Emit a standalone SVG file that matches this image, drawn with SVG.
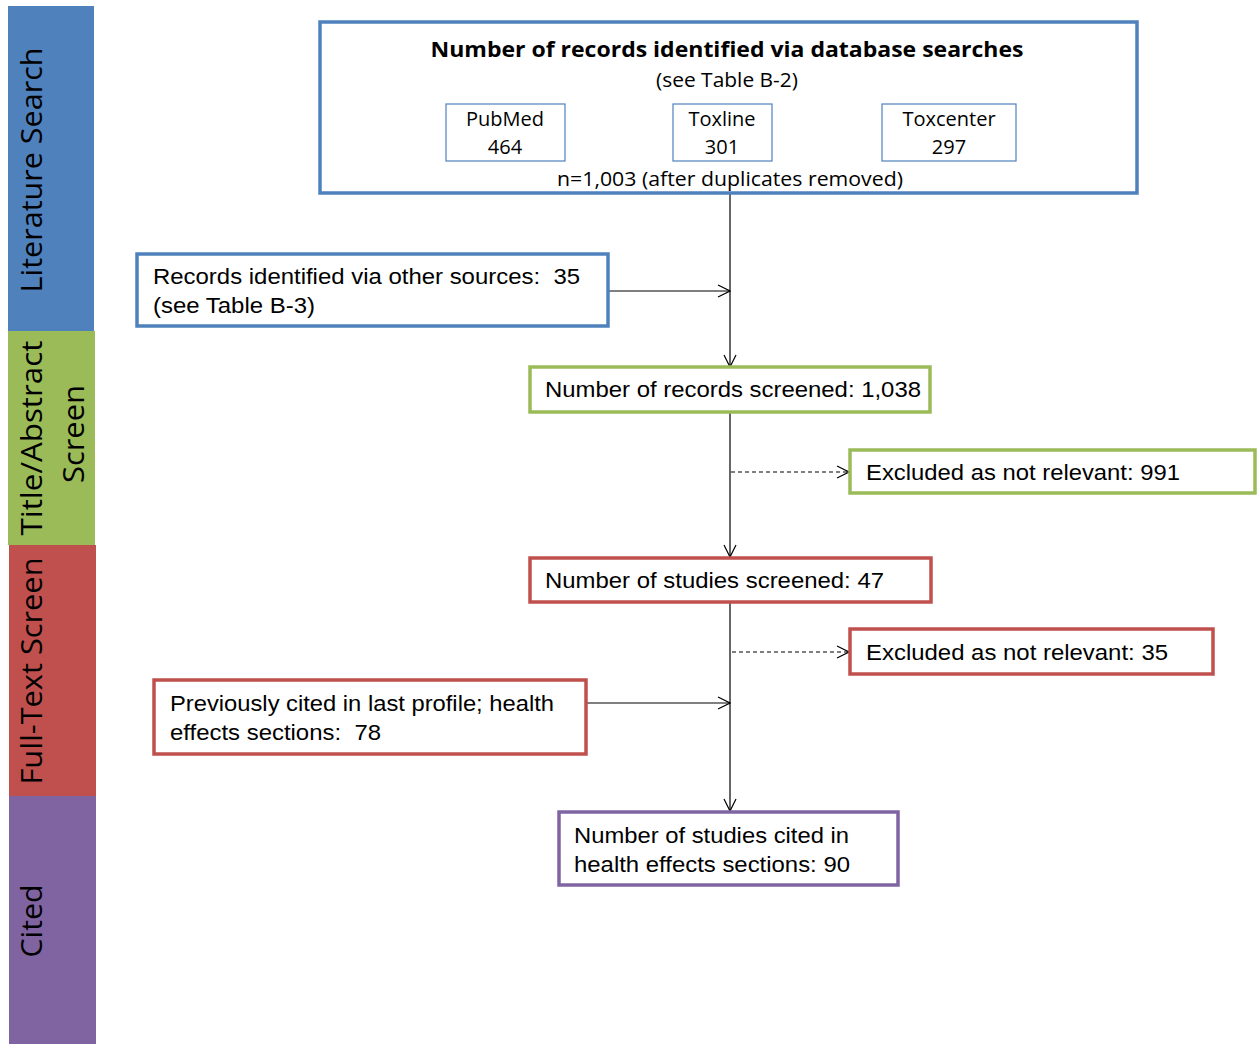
<svg xmlns="http://www.w3.org/2000/svg" width="1257" height="1044" viewBox="0 0 1257 1044">
<style>
.band{font-family:"Open Sans","DejaVu Sans",sans-serif;font-size:29px;fill:#000}
.t{font-family:"Liberation Sans",Arial,sans-serif;font-size:22px;fill:#000}
.c{font-family:"Open Sans","DejaVu Sans",sans-serif;font-size:20px;fill:#000}
.cb{font-family:"Open Sans","DejaVu Sans",sans-serif;font-size:22px;font-weight:bold;fill:#000}
.box{fill:#fff;stroke-width:3.5}
.blue{stroke:#4f81bd}
.green{stroke:#9bbb59}
.red{stroke:#c0504d}
.purple{stroke:#8064a2}
.sub{fill:#fff;stroke:#4f81bd;stroke-width:1.2}
.ln{stroke:#000;stroke-width:1.2;fill:none}
.dash{stroke-dasharray:4 3}
</style>
<defs>
<marker id="arr" markerUnits="userSpaceOnUse" markerWidth="14" markerHeight="14" viewBox="0 0 14 14" refX="13" refY="7" orient="auto">
<path d="M1,1 L13,7 L1,13" fill="none" stroke="#000" stroke-width="1.2"/>
</marker>
</defs>
<rect width="1257" height="1044" fill="#fff"/>
<g id="bands">
<rect x="8" y="6" width="86" height="325" fill="#4f81bd"/>
<rect x="8" y="331" width="87" height="214" fill="#9bbb59"/>
<rect x="9" y="545" width="87" height="251" fill="#c0504d"/>
<rect x="9" y="796" width="87" height="248" fill="#8064a2"/>
<text class="band" transform="translate(42,170) rotate(-90)" text-anchor="middle" textLength="245" lengthAdjust="spacingAndGlyphs">Literature Search</text>
<text class="band" transform="translate(42,438) rotate(-90)" text-anchor="middle" textLength="195" lengthAdjust="spacingAndGlyphs">Title/Abstract</text>
<text class="band" transform="translate(84,434) rotate(-90)" text-anchor="middle" textLength="98" lengthAdjust="spacingAndGlyphs">Screen</text>
<text class="band" transform="translate(42,671) rotate(-90)" text-anchor="middle" textLength="227" lengthAdjust="spacingAndGlyphs">Full-Text Screen</text>
<text class="band" transform="translate(42,921) rotate(-90)" text-anchor="middle" textLength="73" lengthAdjust="spacingAndGlyphs">Cited</text>
</g>
<g id="connectors">
<line class="ln" x1="730" y1="193" x2="730" y2="367" marker-end="url(#arr)"/>
<line class="ln" x1="608" y1="291" x2="730" y2="291" marker-end="url(#arr)"/>
<line class="ln" x1="730" y1="412" x2="730" y2="557" marker-end="url(#arr)"/>
<line class="ln dash" x1="731" y1="472" x2="849" y2="472" marker-end="url(#arr)"/>
<line class="ln" x1="730" y1="602" x2="730" y2="811" marker-end="url(#arr)"/>
<line class="ln dash" x1="732" y1="652" x2="849" y2="652" marker-end="url(#arr)"/>
<line class="ln" x1="586" y1="703" x2="730" y2="703" marker-end="url(#arr)"/>
</g>
<g id="db-search">
<rect class="box blue" x="320" y="22" width="817" height="171"/>
<text class="cb" x="727" y="57" text-anchor="middle" textLength="593" lengthAdjust="spacingAndGlyphs">Number of records identified via database searches</text>
<text class="c" x="727" y="87" text-anchor="middle" textLength="142" lengthAdjust="spacingAndGlyphs">(see Table B-2)</text>
<text class="c" x="730" y="186" text-anchor="middle" textLength="346" lengthAdjust="spacingAndGlyphs">n=1,003 (after duplicates removed)</text>
</g>
<g id="pubmed">
<rect class="sub" x="446" y="104" width="119" height="57"/>
<text class="c" x="505" y="126" text-anchor="middle">PubMed</text>
<text class="c" x="505" y="154" text-anchor="middle">464</text>
</g>
<g id="toxline">
<rect class="sub" x="673" y="104" width="99" height="57"/>
<text class="c" x="722" y="126" text-anchor="middle">Toxline</text>
<text class="c" x="722" y="154" text-anchor="middle">301</text>
</g>
<g id="toxcenter">
<rect class="sub" x="882" y="104" width="134" height="57"/>
<text class="c" x="949" y="126" text-anchor="middle">Toxcenter</text>
<text class="c" x="949" y="154" text-anchor="middle">297</text>
</g>
<g id="other-sources">
<rect class="box blue" x="137" y="254" width="471" height="72"/>
<text class="t" x="153" y="284" textLength="427" lengthAdjust="spacingAndGlyphs" xml:space="preserve">Records identified via other sources:  35</text>
<text class="t" x="153" y="313" textLength="162" lengthAdjust="spacingAndGlyphs">(see Table B-3)</text>
</g>
<g id="records-screened">
<rect class="box green" x="530" y="367" width="400" height="45"/>
<text class="t" x="545" y="397" textLength="376" lengthAdjust="spacingAndGlyphs">Number of records screened: 1,038</text>
</g>
<g id="excluded-991">
<rect class="box green" x="850" y="450" width="405" height="43"/>
<text class="t" x="866" y="480" textLength="314" lengthAdjust="spacingAndGlyphs">Excluded as not relevant: 991</text>
</g>
<g id="studies-screened">
<rect class="box red" x="530" y="558" width="401" height="44"/>
<text class="t" x="545" y="588" textLength="339" lengthAdjust="spacingAndGlyphs">Number of studies screened: 47</text>
</g>
<g id="excluded-35">
<rect class="box red" x="850" y="629" width="363" height="45"/>
<text class="t" x="866" y="660" textLength="302" lengthAdjust="spacingAndGlyphs">Excluded as not relevant: 35</text>
</g>
<g id="previously-cited">
<rect class="box red" x="154" y="680" width="432" height="74"/>
<text class="t" x="170" y="711" textLength="384" lengthAdjust="spacingAndGlyphs">Previously cited in last profile; health</text>
<text class="t" x="170" y="740" textLength="211" lengthAdjust="spacingAndGlyphs" xml:space="preserve">effects sections:  78</text>
</g>
<g id="cited">
<rect class="box purple" x="559" y="812" width="339" height="73"/>
<text class="t" x="574" y="843" textLength="275" lengthAdjust="spacingAndGlyphs">Number of studies cited in</text>
<text class="t" x="574" y="872" textLength="276" lengthAdjust="spacingAndGlyphs">health effects sections: 90</text>
</g>
</svg>
